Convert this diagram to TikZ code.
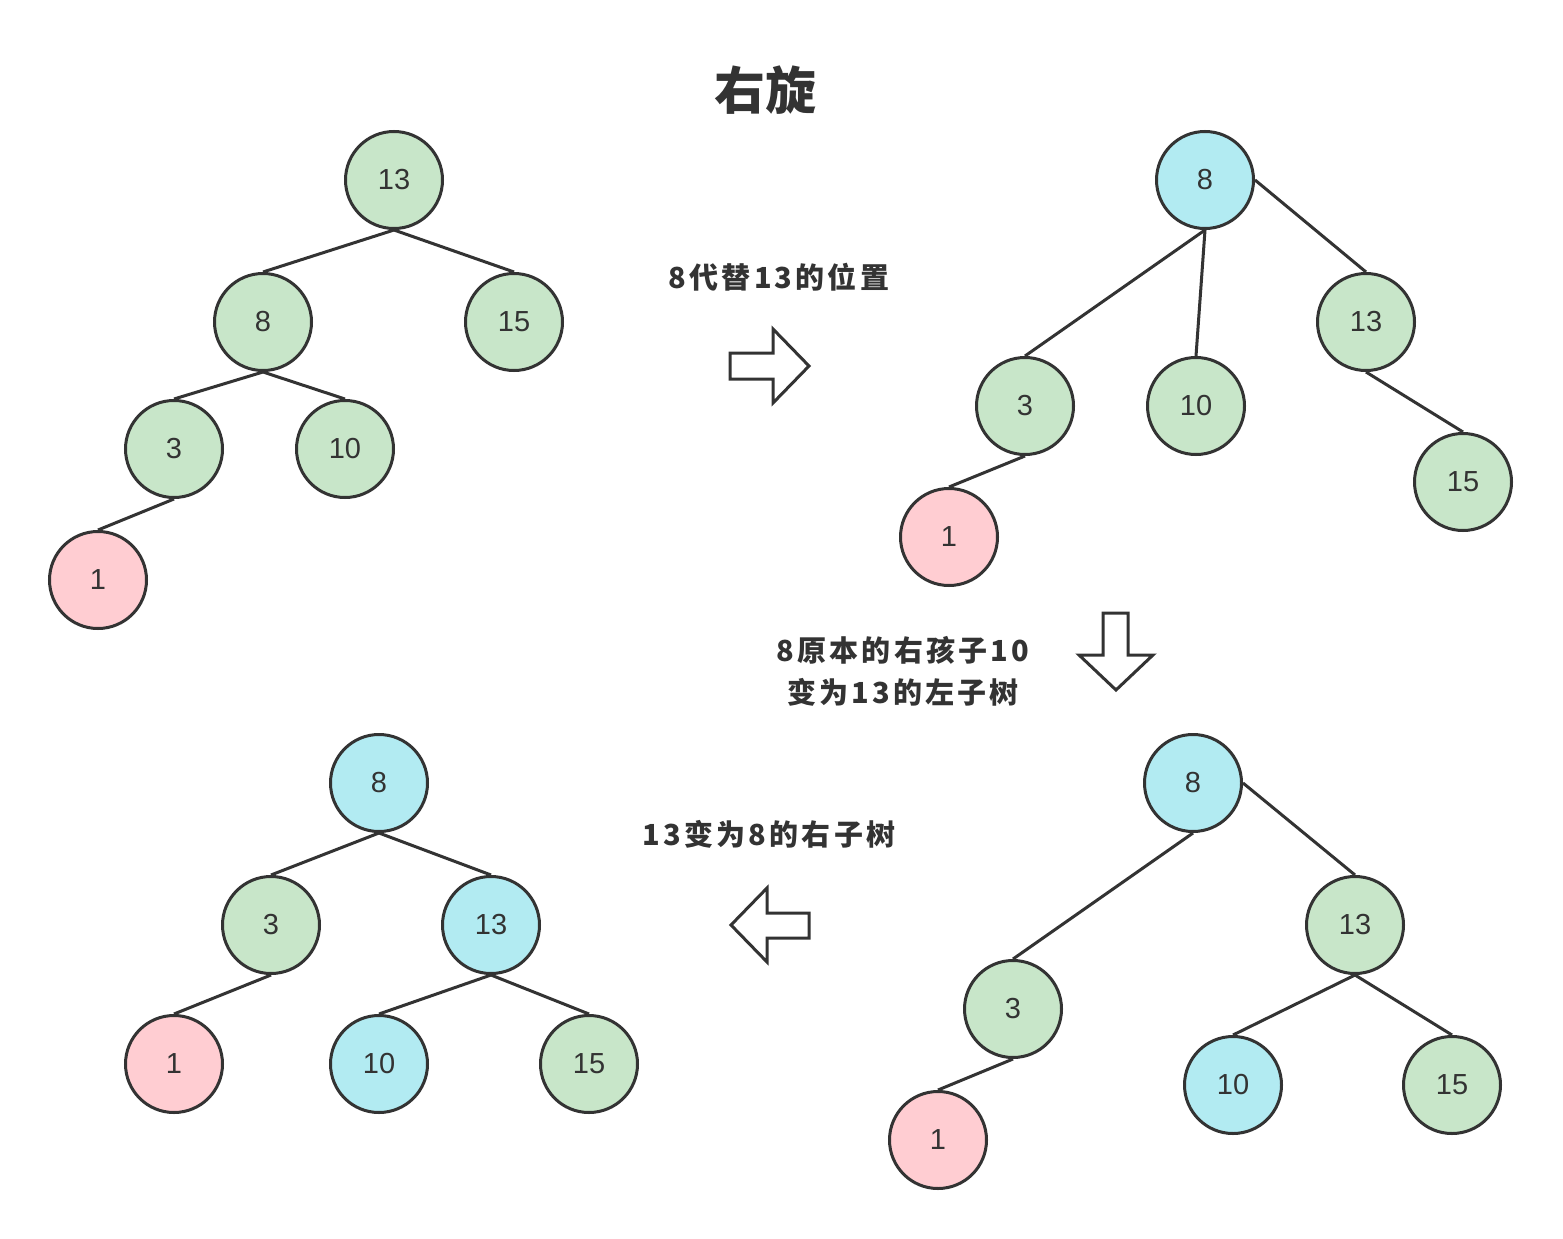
\documentclass[tikz,border=0pt]{standalone}
\usepackage{fontspec}
\setmainfont{Liberation Sans}
\newfontfamily\cjk{Noto Sans CJK SC}
\newfontfamily\cjksp{Noto Sans CJK SC}[LetterSpace=11]
\begin{document}
\begin{tikzpicture}[x=1pt,y=-1pt,
  tn/.style={circle,draw=darkc,line width=3pt,minimum size=97pt,inner sep=0pt,
    text=darkc,font=\fontsize{29}{32}\selectfont},
  gn/.style={tn,fill=greenc},
  bn/.style={tn,fill=bluec},
  pn/.style={tn,fill=pinkc},
  edge/.style={draw=darkc,line width=3pt},
  bigarrow/.style={draw=darkc,line width=3pt,fill=white,line join=miter},
  lbl/.style={text=darkc,font=\cjksp\bfseries\fontsize{29}{42}\selectfont,align=center}]
\definecolor{darkc}{HTML}{333333}
\definecolor{greenc}{HTML}{C8E6C9}
\definecolor{bluec}{HTML}{B2EBF2}
\definecolor{pinkc}{HTML}{FFCDD2}
\path[use as bounding box,fill=white] (0,0) rectangle (1563,1239);

\node[text=darkc,font=\cjk\bfseries\fontsize{51}{56}\selectfont] (title) at (765,90) {右旋};

% tree 1
\node[gn] (a13) at (394,180) {13};
\node[gn] (a8) at (263,322) {8};
\node[gn] (a15) at (514,322) {15};
\node[gn] (a3) at (174,449) {3};
\node[gn] (a10) at (345,449) {10};
\node[pn] (a1) at (98,580) {1};
\draw[edge] (a13.south) -- (a8.north);
\draw[edge] (a13.south) -- (a15.north);
\draw[edge] (a8.south) -- (a3.north);
\draw[edge] (a8.south) -- (a10.north);
\draw[edge] (a3.south) -- (a1.north);

% tree 2
\node[bn] (b8) at (1205,180) {8};
\node[gn] (b13) at (1366,322) {13};
\node[gn] (b3) at (1025,406) {3};
\node[gn] (b10) at (1196,406) {10};
\node[gn] (b15) at (1463,482) {15};
\node[pn] (b1) at (949,537) {1};
\draw[edge] (b8.south) -- (b3.north);
\draw[edge] (b8.south) -- (b10.north);
\draw[edge] (b8.east) -- (b13.north);
\draw[edge] (b13.south) -- (b15.north);
\draw[edge] (b3.south) -- (b1.north);

% tree 3
\node[bn] (c8) at (1193,783) {8};
\node[gn] (c13) at (1355,925) {13};
\node[gn] (c3) at (1013,1009) {3};
\node[bn] (c10) at (1233,1085) {10};
\node[gn] (c15) at (1452,1085) {15};
\node[pn] (c1) at (938,1140) {1};
\draw[edge] (c8.south) -- (c3.north);
\draw[edge] (c8.east) -- (c13.north);
\draw[edge] (c13.south) -- (c10.north);
\draw[edge] (c13.south) -- (c15.north);
\draw[edge] (c3.south) -- (c1.north);

% tree 4
\node[bn] (d8) at (379,783) {8};
\node[gn] (d3) at (271,925) {3};
\node[bn] (d13) at (491,925) {13};
\node[pn] (d1) at (174,1064) {1};
\node[bn] (d10) at (379,1064) {10};
\node[gn] (d15) at (589,1064) {15};
\draw[edge] (d8.south) -- (d3.north);
\draw[edge] (d8.south) -- (d13.north);
\draw[edge] (d3.south) -- (d1.north);
\draw[edge] (d13.south) -- (d10.north);
\draw[edge] (d13.south) -- (d15.north);

% labels
\node[lbl] (l1) at (779,277) {8代替13的位置};
\node[lbl] (l2) at (903,671) {8原本的右孩子10\\变为13的左子树};
\node[lbl] (l3) at (769,834) {13变为8的右子树};

% block arrows
\draw[bigarrow] (730,353) -- (773,353) -- (773,329) -- (809,366) -- (773,403) -- (773,379) -- (730,379) -- cycle;
\draw[bigarrow] (1103,613) -- (1128,613) -- (1128,655) -- (1153,655) -- (1116,690) -- (1079,655) -- (1103,655) -- cycle;
\draw[bigarrow] (809,913) -- (767,913) -- (767,888) -- (731,925) -- (767,962) -- (767,938) -- (809,938) -- cycle;
\end{tikzpicture}
\end{document}
